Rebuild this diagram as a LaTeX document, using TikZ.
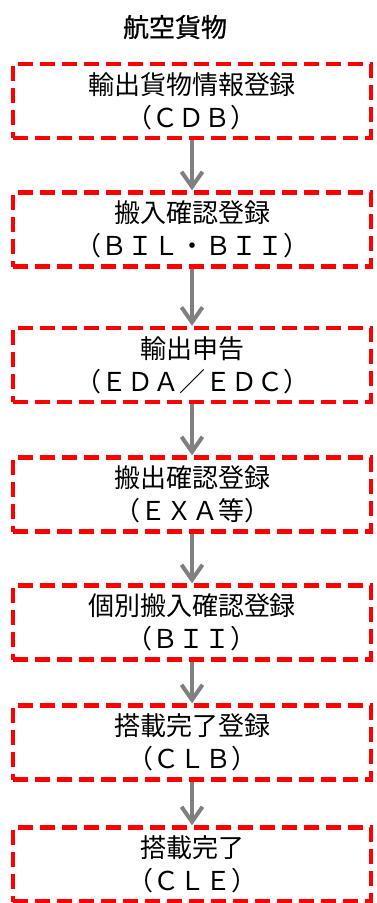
\documentclass[tikz,border=0pt]{standalone}
\usepackage{fontspec}
\newfontfamily\cjk{Noto Sans CJK JP}
\newfontfamily\cjktitle[FakeBold=0.8]{Noto Sans CJK JP}
\usetikzlibrary{arrows.meta}
\begin{document}
\begin{tikzpicture}[x=1pt,y=-1pt,
  stepbox/.style={draw=red, line width=4.5pt, dash pattern=on 15pt off 7pt,
    minimum width=358pt, minimum height=74pt, inner sep=0pt, align=center,
    font=\cjk\fontsize{26}{33}\selectfont},
  flow/.style={draw=black!50, line width=4pt,
    -{Straight Barb[length=15pt,width=21pt,line width=4pt]}},
  titletext/.style={font=\cjktitle\fontsize{26}{30}\selectfont, inner sep=0pt}]
\useasboundingbox (0,0) rectangle (376,903);
\node[titletext] (title) at (175,27) {航空貨物};
\node[stepbox] (b1) at (192,101)   {輸出貨物情報登録\\（ＣＤＢ）};
\node[stepbox] (b2) at (192,229.5) {搬入確認登録\\（ＢＩＬ・ＢＩＩ）};
\node[stepbox] (b3) at (192,365)   {輸出申告\\（ＥＤＡ／ＥＤＣ）};
\node[stepbox] (b4) at (192,494.5) {搬出確認登録\\（ＥＸＡ等）};
\node[stepbox] (b5) at (192,622.5) {個別搬入確認登録\\（ＢＩＩ）};
\node[stepbox] (b6) at (192,742.5) {搭載完了登録\\（ＣＬＢ）};
\node[stepbox] (b7) at (192,864.5) {搭載完了\\（ＣＬＥ）};
\draw[flow] (b1.south) -- (b2.north);
\draw[flow] (b2.south) -- (b3.north);
\draw[flow] (b3.south) -- (b4.north);
\draw[flow] (b4.south) -- (b5.north);
\draw[flow] (b5.south) -- (b6.north);
\draw[flow] (b6.south) -- (b7.north);
\end{tikzpicture}
\end{document}
